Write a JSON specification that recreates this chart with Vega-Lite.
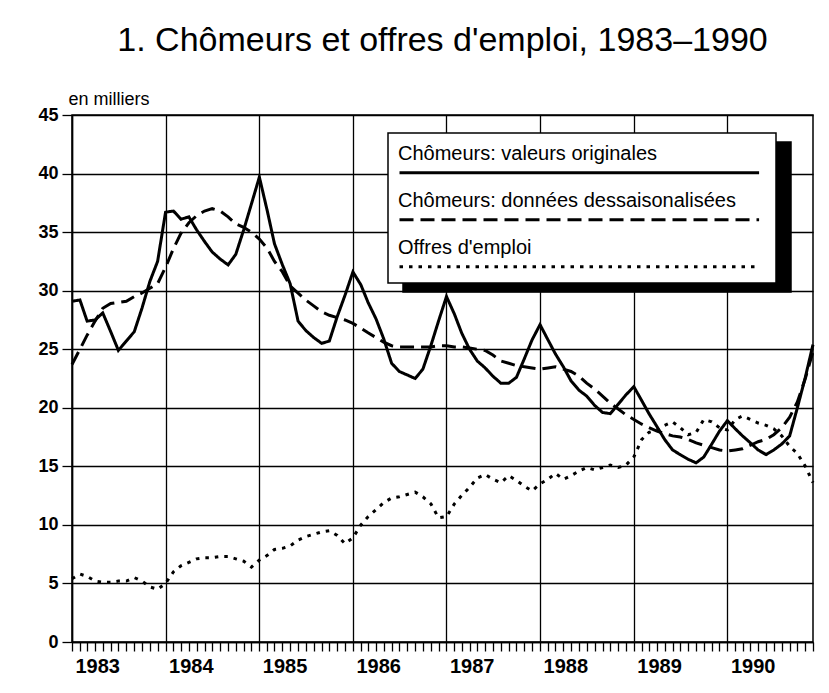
{
  "$schema": "https://vega.github.io/schema/vega-lite/v6.json",
  "width": 741,
  "height": 527,
  "autosize": {"type": "none"},
  "padding": {"left": 72, "top": 115, "right": 16, "bottom": 51},
  "background": "white",
  "title": {"text": "1. Chômeurs et offres d'emploi, 1983–1990", "font": "Liberation Sans", "fontSize": 34, "fontWeight": "normal", "color": "black", "anchor": "middle", "frame": "group", "offset": 32},
  "layer": [
  {
  "data": {"values": [
{"mois":"1983-01-01","serie":"Chômeurs: valeurs originales","valeur":29.1},{"mois":"1983-02-01","serie":"Chômeurs: valeurs originales","valeur":29.2},{"mois":"1983-03-01","serie":"Chômeurs: valeurs originales","valeur":27.4},{"mois":"1983-04-01","serie":"Chômeurs: valeurs originales","valeur":27.5},{"mois":"1983-05-01","serie":"Chômeurs: valeurs originales","valeur":28.1},{"mois":"1983-06-01","serie":"Chômeurs: valeurs originales","valeur":26.5},{"mois":"1983-07-01","serie":"Chômeurs: valeurs originales","valeur":24.9},{"mois":"1983-08-01","serie":"Chômeurs: valeurs originales","valeur":25.7},{"mois":"1983-09-01","serie":"Chômeurs: valeurs originales","valeur":26.5},{"mois":"1983-10-01","serie":"Chômeurs: valeurs originales","valeur":28.5},{"mois":"1983-11-01","serie":"Chômeurs: valeurs originales","valeur":30.8},{"mois":"1983-12-01","serie":"Chômeurs: valeurs originales","valeur":32.5},
{"mois":"1984-01-01","serie":"Chômeurs: valeurs originales","valeur":36.7},{"mois":"1984-02-01","serie":"Chômeurs: valeurs originales","valeur":36.8},{"mois":"1984-03-01","serie":"Chômeurs: valeurs originales","valeur":36.1},{"mois":"1984-04-01","serie":"Chômeurs: valeurs originales","valeur":36.3},{"mois":"1984-05-01","serie":"Chômeurs: valeurs originales","valeur":35.2},{"mois":"1984-06-01","serie":"Chômeurs: valeurs originales","valeur":34.2},{"mois":"1984-07-01","serie":"Chômeurs: valeurs originales","valeur":33.3},{"mois":"1984-08-01","serie":"Chômeurs: valeurs originales","valeur":32.7},{"mois":"1984-09-01","serie":"Chômeurs: valeurs originales","valeur":32.2},{"mois":"1984-10-01","serie":"Chômeurs: valeurs originales","valeur":33.1},{"mois":"1984-11-01","serie":"Chômeurs: valeurs originales","valeur":35.2},{"mois":"1984-12-01","serie":"Chômeurs: valeurs originales","valeur":37.4},
{"mois":"1985-01-01","serie":"Chômeurs: valeurs originales","valeur":39.7},{"mois":"1985-02-01","serie":"Chômeurs: valeurs originales","valeur":36.8},{"mois":"1985-03-01","serie":"Chômeurs: valeurs originales","valeur":34.0},{"mois":"1985-04-01","serie":"Chômeurs: valeurs originales","valeur":32.2},{"mois":"1985-05-01","serie":"Chômeurs: valeurs originales","valeur":30.6},{"mois":"1985-06-01","serie":"Chômeurs: valeurs originales","valeur":27.4},{"mois":"1985-07-01","serie":"Chômeurs: valeurs originales","valeur":26.6},{"mois":"1985-08-01","serie":"Chômeurs: valeurs originales","valeur":26.0},{"mois":"1985-09-01","serie":"Chômeurs: valeurs originales","valeur":25.5},{"mois":"1985-10-01","serie":"Chômeurs: valeurs originales","valeur":25.7},{"mois":"1985-11-01","serie":"Chômeurs: valeurs originales","valeur":27.8},{"mois":"1985-12-01","serie":"Chômeurs: valeurs originales","valeur":29.6},
{"mois":"1986-01-01","serie":"Chômeurs: valeurs originales","valeur":31.6},{"mois":"1986-02-01","serie":"Chômeurs: valeurs originales","valeur":30.5},{"mois":"1986-03-01","serie":"Chômeurs: valeurs originales","valeur":29.0},{"mois":"1986-04-01","serie":"Chômeurs: valeurs originales","valeur":27.6},{"mois":"1986-05-01","serie":"Chômeurs: valeurs originales","valeur":25.9},{"mois":"1986-06-01","serie":"Chômeurs: valeurs originales","valeur":23.8},{"mois":"1986-07-01","serie":"Chômeurs: valeurs originales","valeur":23.1},{"mois":"1986-08-01","serie":"Chômeurs: valeurs originales","valeur":22.8},{"mois":"1986-09-01","serie":"Chômeurs: valeurs originales","valeur":22.5},{"mois":"1986-10-01","serie":"Chômeurs: valeurs originales","valeur":23.3},{"mois":"1986-11-01","serie":"Chômeurs: valeurs originales","valeur":25.3},{"mois":"1986-12-01","serie":"Chômeurs: valeurs originales","valeur":27.4},
{"mois":"1987-01-01","serie":"Chômeurs: valeurs originales","valeur":29.5},{"mois":"1987-02-01","serie":"Chômeurs: valeurs originales","valeur":28.0},{"mois":"1987-03-01","serie":"Chômeurs: valeurs originales","valeur":26.4},{"mois":"1987-04-01","serie":"Chômeurs: valeurs originales","valeur":25.0},{"mois":"1987-05-01","serie":"Chômeurs: valeurs originales","valeur":24.0},{"mois":"1987-06-01","serie":"Chômeurs: valeurs originales","valeur":23.4},{"mois":"1987-07-01","serie":"Chômeurs: valeurs originales","valeur":22.7},{"mois":"1987-08-01","serie":"Chômeurs: valeurs originales","valeur":22.1},{"mois":"1987-09-01","serie":"Chômeurs: valeurs originales","valeur":22.1},{"mois":"1987-10-01","serie":"Chômeurs: valeurs originales","valeur":22.6},{"mois":"1987-11-01","serie":"Chômeurs: valeurs originales","valeur":24.2},{"mois":"1987-12-01","serie":"Chômeurs: valeurs originales","valeur":25.8},
{"mois":"1988-01-01","serie":"Chômeurs: valeurs originales","valeur":27.1},{"mois":"1988-02-01","serie":"Chômeurs: valeurs originales","valeur":25.8},{"mois":"1988-03-01","serie":"Chômeurs: valeurs originales","valeur":24.6},{"mois":"1988-04-01","serie":"Chômeurs: valeurs originales","valeur":23.5},{"mois":"1988-05-01","serie":"Chômeurs: valeurs originales","valeur":22.3},{"mois":"1988-06-01","serie":"Chômeurs: valeurs originales","valeur":21.5},{"mois":"1988-07-01","serie":"Chômeurs: valeurs originales","valeur":21.0},{"mois":"1988-08-01","serie":"Chômeurs: valeurs originales","valeur":20.2},{"mois":"1988-09-01","serie":"Chômeurs: valeurs originales","valeur":19.6},{"mois":"1988-10-01","serie":"Chômeurs: valeurs originales","valeur":19.5},{"mois":"1988-11-01","serie":"Chômeurs: valeurs originales","valeur":20.3},{"mois":"1988-12-01","serie":"Chômeurs: valeurs originales","valeur":21.1},
{"mois":"1989-01-01","serie":"Chômeurs: valeurs originales","valeur":21.8},{"mois":"1989-02-01","serie":"Chômeurs: valeurs originales","valeur":20.6},{"mois":"1989-03-01","serie":"Chômeurs: valeurs originales","valeur":19.5},{"mois":"1989-04-01","serie":"Chômeurs: valeurs originales","valeur":18.4},{"mois":"1989-05-01","serie":"Chômeurs: valeurs originales","valeur":17.3},{"mois":"1989-06-01","serie":"Chômeurs: valeurs originales","valeur":16.4},{"mois":"1989-07-01","serie":"Chômeurs: valeurs originales","valeur":16.0},{"mois":"1989-08-01","serie":"Chômeurs: valeurs originales","valeur":15.6},{"mois":"1989-09-01","serie":"Chômeurs: valeurs originales","valeur":15.3},{"mois":"1989-10-01","serie":"Chômeurs: valeurs originales","valeur":15.8},{"mois":"1989-11-01","serie":"Chômeurs: valeurs originales","valeur":16.9},{"mois":"1989-12-01","serie":"Chômeurs: valeurs originales","valeur":18.0},
{"mois":"1990-01-01","serie":"Chômeurs: valeurs originales","valeur":18.9},{"mois":"1990-02-01","serie":"Chômeurs: valeurs originales","valeur":18.2},{"mois":"1990-03-01","serie":"Chômeurs: valeurs originales","valeur":17.6},{"mois":"1990-04-01","serie":"Chômeurs: valeurs originales","valeur":17.0},{"mois":"1990-05-01","serie":"Chômeurs: valeurs originales","valeur":16.4},{"mois":"1990-06-01","serie":"Chômeurs: valeurs originales","valeur":16.0},{"mois":"1990-07-01","serie":"Chômeurs: valeurs originales","valeur":16.4},{"mois":"1990-08-01","serie":"Chômeurs: valeurs originales","valeur":16.9},{"mois":"1990-09-01","serie":"Chômeurs: valeurs originales","valeur":17.6},{"mois":"1990-10-01","serie":"Chômeurs: valeurs originales","valeur":20.0},{"mois":"1990-11-01","serie":"Chômeurs: valeurs originales","valeur":22.6},{"mois":"1990-12-01","serie":"Chômeurs: valeurs originales","valeur":25.4},
{"mois":"1983-01-01","serie":"Chômeurs: données dessaisonalisées","valeur":23.7},{"mois":"1983-02-01","serie":"Chômeurs: données dessaisonalisées","valeur":25.0},{"mois":"1983-03-01","serie":"Chômeurs: données dessaisonalisées","valeur":26.2},{"mois":"1983-04-01","serie":"Chômeurs: données dessaisonalisées","valeur":27.4},{"mois":"1983-05-01","serie":"Chômeurs: données dessaisonalisées","valeur":28.5},{"mois":"1983-06-01","serie":"Chômeurs: données dessaisonalisées","valeur":28.9},{"mois":"1983-07-01","serie":"Chômeurs: données dessaisonalisées","valeur":29.0},{"mois":"1983-08-01","serie":"Chômeurs: données dessaisonalisées","valeur":29.1},{"mois":"1983-09-01","serie":"Chômeurs: données dessaisonalisées","valeur":29.5},{"mois":"1983-10-01","serie":"Chômeurs: données dessaisonalisées","valeur":29.8},{"mois":"1983-11-01","serie":"Chômeurs: données dessaisonalisées","valeur":30.2},{"mois":"1983-12-01","serie":"Chômeurs: données dessaisonalisées","valeur":30.6},
{"mois":"1984-01-01","serie":"Chômeurs: données dessaisonalisées","valeur":32.0},{"mois":"1984-02-01","serie":"Chômeurs: données dessaisonalisées","valeur":33.6},{"mois":"1984-03-01","serie":"Chômeurs: données dessaisonalisées","valeur":34.9},{"mois":"1984-04-01","serie":"Chômeurs: données dessaisonalisées","valeur":35.8},{"mois":"1984-05-01","serie":"Chômeurs: données dessaisonalisées","valeur":36.4},{"mois":"1984-06-01","serie":"Chômeurs: données dessaisonalisées","valeur":36.8},{"mois":"1984-07-01","serie":"Chômeurs: données dessaisonalisées","valeur":37.0},{"mois":"1984-08-01","serie":"Chômeurs: données dessaisonalisées","valeur":36.8},{"mois":"1984-09-01","serie":"Chômeurs: données dessaisonalisées","valeur":36.3},{"mois":"1984-10-01","serie":"Chômeurs: données dessaisonalisées","valeur":35.7},{"mois":"1984-11-01","serie":"Chômeurs: données dessaisonalisées","valeur":35.4},{"mois":"1984-12-01","serie":"Chômeurs: données dessaisonalisées","valeur":35.0},
{"mois":"1985-01-01","serie":"Chômeurs: données dessaisonalisées","valeur":34.4},{"mois":"1985-02-01","serie":"Chômeurs: données dessaisonalisées","valeur":33.6},{"mois":"1985-03-01","serie":"Chômeurs: données dessaisonalisées","valeur":32.5},{"mois":"1985-04-01","serie":"Chômeurs: données dessaisonalisées","valeur":31.6},{"mois":"1985-05-01","serie":"Chômeurs: données dessaisonalisées","valeur":30.4},{"mois":"1985-06-01","serie":"Chômeurs: données dessaisonalisées","valeur":29.8},{"mois":"1985-07-01","serie":"Chômeurs: données dessaisonalisées","valeur":29.2},{"mois":"1985-08-01","serie":"Chômeurs: données dessaisonalisées","valeur":28.7},{"mois":"1985-09-01","serie":"Chômeurs: données dessaisonalisées","valeur":28.2},{"mois":"1985-10-01","serie":"Chômeurs: données dessaisonalisées","valeur":27.9},{"mois":"1985-11-01","serie":"Chômeurs: données dessaisonalisées","valeur":27.7},{"mois":"1985-12-01","serie":"Chômeurs: données dessaisonalisées","valeur":27.5},
{"mois":"1986-01-01","serie":"Chômeurs: données dessaisonalisées","valeur":27.2},{"mois":"1986-02-01","serie":"Chômeurs: données dessaisonalisées","valeur":26.8},{"mois":"1986-03-01","serie":"Chômeurs: données dessaisonalisées","valeur":26.4},{"mois":"1986-04-01","serie":"Chômeurs: données dessaisonalisées","valeur":26.0},{"mois":"1986-05-01","serie":"Chômeurs: données dessaisonalisées","valeur":25.6},{"mois":"1986-06-01","serie":"Chômeurs: données dessaisonalisées","valeur":25.3},{"mois":"1986-07-01","serie":"Chômeurs: données dessaisonalisées","valeur":25.2},{"mois":"1986-08-01","serie":"Chômeurs: données dessaisonalisées","valeur":25.2},{"mois":"1986-09-01","serie":"Chômeurs: données dessaisonalisées","valeur":25.2},{"mois":"1986-10-01","serie":"Chômeurs: données dessaisonalisées","valeur":25.2},{"mois":"1986-11-01","serie":"Chômeurs: données dessaisonalisées","valeur":25.2},{"mois":"1986-12-01","serie":"Chômeurs: données dessaisonalisées","valeur":25.3},
{"mois":"1987-01-01","serie":"Chômeurs: données dessaisonalisées","valeur":25.3},{"mois":"1987-02-01","serie":"Chômeurs: données dessaisonalisées","valeur":25.2},{"mois":"1987-03-01","serie":"Chômeurs: données dessaisonalisées","valeur":25.2},{"mois":"1987-04-01","serie":"Chômeurs: données dessaisonalisées","valeur":25.1},{"mois":"1987-05-01","serie":"Chômeurs: données dessaisonalisées","valeur":25.0},{"mois":"1987-06-01","serie":"Chômeurs: données dessaisonalisées","valeur":24.9},{"mois":"1987-07-01","serie":"Chômeurs: données dessaisonalisées","valeur":24.5},{"mois":"1987-08-01","serie":"Chômeurs: données dessaisonalisées","valeur":24.0},{"mois":"1987-09-01","serie":"Chômeurs: données dessaisonalisées","valeur":23.8},{"mois":"1987-10-01","serie":"Chômeurs: données dessaisonalisées","valeur":23.6},{"mois":"1987-11-01","serie":"Chômeurs: données dessaisonalisées","valeur":23.5},{"mois":"1987-12-01","serie":"Chômeurs: données dessaisonalisées","valeur":23.4},
{"mois":"1988-01-01","serie":"Chômeurs: données dessaisonalisées","valeur":23.3},{"mois":"1988-02-01","serie":"Chômeurs: données dessaisonalisées","valeur":23.4},{"mois":"1988-03-01","serie":"Chômeurs: données dessaisonalisées","valeur":23.5},{"mois":"1988-04-01","serie":"Chômeurs: données dessaisonalisées","valeur":23.3},{"mois":"1988-05-01","serie":"Chômeurs: données dessaisonalisées","valeur":23.1},{"mois":"1988-06-01","serie":"Chômeurs: données dessaisonalisées","valeur":22.7},{"mois":"1988-07-01","serie":"Chômeurs: données dessaisonalisées","valeur":22.1},{"mois":"1988-08-01","serie":"Chômeurs: données dessaisonalisées","valeur":21.6},{"mois":"1988-09-01","serie":"Chômeurs: données dessaisonalisées","valeur":21.0},{"mois":"1988-10-01","serie":"Chômeurs: données dessaisonalisées","valeur":20.4},{"mois":"1988-11-01","serie":"Chômeurs: données dessaisonalisées","valeur":19.9},{"mois":"1988-12-01","serie":"Chômeurs: données dessaisonalisées","valeur":19.4},
{"mois":"1989-01-01","serie":"Chômeurs: données dessaisonalisées","valeur":19.0},{"mois":"1989-02-01","serie":"Chômeurs: données dessaisonalisées","valeur":18.6},{"mois":"1989-03-01","serie":"Chômeurs: données dessaisonalisées","valeur":18.3},{"mois":"1989-04-01","serie":"Chômeurs: données dessaisonalisées","valeur":18.0},{"mois":"1989-05-01","serie":"Chômeurs: données dessaisonalisées","valeur":17.8},{"mois":"1989-06-01","serie":"Chômeurs: données dessaisonalisées","valeur":17.6},{"mois":"1989-07-01","serie":"Chômeurs: données dessaisonalisées","valeur":17.5},{"mois":"1989-08-01","serie":"Chômeurs: données dessaisonalisées","valeur":17.3},{"mois":"1989-09-01","serie":"Chômeurs: données dessaisonalisées","valeur":17.0},{"mois":"1989-10-01","serie":"Chômeurs: données dessaisonalisées","valeur":16.8},{"mois":"1989-11-01","serie":"Chômeurs: données dessaisonalisées","valeur":16.6},{"mois":"1989-12-01","serie":"Chômeurs: données dessaisonalisées","valeur":16.4},
{"mois":"1990-01-01","serie":"Chômeurs: données dessaisonalisées","valeur":16.3},{"mois":"1990-02-01","serie":"Chômeurs: données dessaisonalisées","valeur":16.4},{"mois":"1990-03-01","serie":"Chômeurs: données dessaisonalisées","valeur":16.5},{"mois":"1990-04-01","serie":"Chômeurs: données dessaisonalisées","valeur":16.8},{"mois":"1990-05-01","serie":"Chômeurs: données dessaisonalisées","valeur":17.1},{"mois":"1990-06-01","serie":"Chômeurs: données dessaisonalisées","valeur":17.3},{"mois":"1990-07-01","serie":"Chômeurs: données dessaisonalisées","valeur":17.7},{"mois":"1990-08-01","serie":"Chômeurs: données dessaisonalisées","valeur":18.3},{"mois":"1990-09-01","serie":"Chômeurs: données dessaisonalisées","valeur":19.2},{"mois":"1990-10-01","serie":"Chômeurs: données dessaisonalisées","valeur":20.5},{"mois":"1990-11-01","serie":"Chômeurs: données dessaisonalisées","valeur":22.5},{"mois":"1990-12-01","serie":"Chômeurs: données dessaisonalisées","valeur":24.8},
{"mois":"1983-01-01","serie":"Offres d'emploi","valeur":5.4},{"mois":"1983-02-01","serie":"Offres d'emploi","valeur":5.8},{"mois":"1983-03-01","serie":"Offres d'emploi","valeur":5.6},{"mois":"1983-04-01","serie":"Offres d'emploi","valeur":5.2},{"mois":"1983-05-01","serie":"Offres d'emploi","valeur":5.1},{"mois":"1983-06-01","serie":"Offres d'emploi","valeur":5.1},{"mois":"1983-07-01","serie":"Offres d'emploi","valeur":5.2},{"mois":"1983-08-01","serie":"Offres d'emploi","valeur":5.2},{"mois":"1983-09-01","serie":"Offres d'emploi","valeur":5.5},{"mois":"1983-10-01","serie":"Offres d'emploi","valeur":5.2},{"mois":"1983-11-01","serie":"Offres d'emploi","valeur":4.7},{"mois":"1983-12-01","serie":"Offres d'emploi","valeur":4.5},
{"mois":"1984-01-01","serie":"Offres d'emploi","valeur":5.0},{"mois":"1984-02-01","serie":"Offres d'emploi","valeur":6.0},{"mois":"1984-03-01","serie":"Offres d'emploi","valeur":6.5},{"mois":"1984-04-01","serie":"Offres d'emploi","valeur":6.8},{"mois":"1984-05-01","serie":"Offres d'emploi","valeur":7.1},{"mois":"1984-06-01","serie":"Offres d'emploi","valeur":7.2},{"mois":"1984-07-01","serie":"Offres d'emploi","valeur":7.2},{"mois":"1984-08-01","serie":"Offres d'emploi","valeur":7.3},{"mois":"1984-09-01","serie":"Offres d'emploi","valeur":7.3},{"mois":"1984-10-01","serie":"Offres d'emploi","valeur":7.1},{"mois":"1984-11-01","serie":"Offres d'emploi","valeur":6.9},{"mois":"1984-12-01","serie":"Offres d'emploi","valeur":6.4},
{"mois":"1985-01-01","serie":"Offres d'emploi","valeur":7.0},{"mois":"1985-02-01","serie":"Offres d'emploi","valeur":7.4},{"mois":"1985-03-01","serie":"Offres d'emploi","valeur":7.9},{"mois":"1985-04-01","serie":"Offres d'emploi","valeur":8.0},{"mois":"1985-05-01","serie":"Offres d'emploi","valeur":8.2},{"mois":"1985-06-01","serie":"Offres d'emploi","valeur":8.7},{"mois":"1985-07-01","serie":"Offres d'emploi","valeur":9.0},{"mois":"1985-08-01","serie":"Offres d'emploi","valeur":9.2},{"mois":"1985-09-01","serie":"Offres d'emploi","valeur":9.4},{"mois":"1985-10-01","serie":"Offres d'emploi","valeur":9.5},{"mois":"1985-11-01","serie":"Offres d'emploi","valeur":9.1},{"mois":"1985-12-01","serie":"Offres d'emploi","valeur":8.4},
{"mois":"1986-01-01","serie":"Offres d'emploi","valeur":8.9},{"mois":"1986-02-01","serie":"Offres d'emploi","valeur":10.0},{"mois":"1986-03-01","serie":"Offres d'emploi","valeur":10.7},{"mois":"1986-04-01","serie":"Offres d'emploi","valeur":11.3},{"mois":"1986-05-01","serie":"Offres d'emploi","valeur":11.9},{"mois":"1986-06-01","serie":"Offres d'emploi","valeur":12.3},{"mois":"1986-07-01","serie":"Offres d'emploi","valeur":12.4},{"mois":"1986-08-01","serie":"Offres d'emploi","valeur":12.6},{"mois":"1986-09-01","serie":"Offres d'emploi","valeur":12.8},{"mois":"1986-10-01","serie":"Offres d'emploi","valeur":12.4},{"mois":"1986-11-01","serie":"Offres d'emploi","valeur":11.8},{"mois":"1986-12-01","serie":"Offres d'emploi","valeur":10.6},
{"mois":"1987-01-01","serie":"Offres d'emploi","valeur":10.7},{"mois":"1987-02-01","serie":"Offres d'emploi","valeur":11.8},{"mois":"1987-03-01","serie":"Offres d'emploi","valeur":12.5},{"mois":"1987-04-01","serie":"Offres d'emploi","valeur":13.2},{"mois":"1987-05-01","serie":"Offres d'emploi","valeur":14.0},{"mois":"1987-06-01","serie":"Offres d'emploi","valeur":14.3},{"mois":"1987-07-01","serie":"Offres d'emploi","valeur":13.9},{"mois":"1987-08-01","serie":"Offres d'emploi","valeur":13.6},{"mois":"1987-09-01","serie":"Offres d'emploi","valeur":14.2},{"mois":"1987-10-01","serie":"Offres d'emploi","valeur":13.8},{"mois":"1987-11-01","serie":"Offres d'emploi","valeur":13.3},{"mois":"1987-12-01","serie":"Offres d'emploi","valeur":12.9},
{"mois":"1988-01-01","serie":"Offres d'emploi","valeur":13.5},{"mois":"1988-02-01","serie":"Offres d'emploi","valeur":13.9},{"mois":"1988-03-01","serie":"Offres d'emploi","valeur":14.4},{"mois":"1988-04-01","serie":"Offres d'emploi","valeur":13.9},{"mois":"1988-05-01","serie":"Offres d'emploi","valeur":14.2},{"mois":"1988-06-01","serie":"Offres d'emploi","valeur":14.6},{"mois":"1988-07-01","serie":"Offres d'emploi","valeur":14.9},{"mois":"1988-08-01","serie":"Offres d'emploi","valeur":14.7},{"mois":"1988-09-01","serie":"Offres d'emploi","valeur":14.9},{"mois":"1988-10-01","serie":"Offres d'emploi","valeur":15.1},{"mois":"1988-11-01","serie":"Offres d'emploi","valeur":14.9},{"mois":"1988-12-01","serie":"Offres d'emploi","valeur":15.1},
{"mois":"1989-01-01","serie":"Offres d'emploi","valeur":15.8},{"mois":"1989-02-01","serie":"Offres d'emploi","valeur":17.3},{"mois":"1989-03-01","serie":"Offres d'emploi","valeur":17.9},{"mois":"1989-04-01","serie":"Offres d'emploi","valeur":18.1},{"mois":"1989-05-01","serie":"Offres d'emploi","valeur":18.5},{"mois":"1989-06-01","serie":"Offres d'emploi","valeur":18.8},{"mois":"1989-07-01","serie":"Offres d'emploi","valeur":18.3},{"mois":"1989-08-01","serie":"Offres d'emploi","valeur":17.7},{"mois":"1989-09-01","serie":"Offres d'emploi","valeur":17.9},{"mois":"1989-10-01","serie":"Offres d'emploi","valeur":19.0},{"mois":"1989-11-01","serie":"Offres d'emploi","valeur":18.8},{"mois":"1989-12-01","serie":"Offres d'emploi","valeur":18.3},
{"mois":"1990-01-01","serie":"Offres d'emploi","valeur":18.1},{"mois":"1990-02-01","serie":"Offres d'emploi","valeur":19.0},{"mois":"1990-03-01","serie":"Offres d'emploi","valeur":19.3},{"mois":"1990-04-01","serie":"Offres d'emploi","valeur":19.0},{"mois":"1990-05-01","serie":"Offres d'emploi","valeur":18.7},{"mois":"1990-06-01","serie":"Offres d'emploi","valeur":18.5},{"mois":"1990-07-01","serie":"Offres d'emploi","valeur":18.2},{"mois":"1990-08-01","serie":"Offres d'emploi","valeur":17.6},{"mois":"1990-09-01","serie":"Offres d'emploi","valeur":16.7},{"mois":"1990-10-01","serie":"Offres d'emploi","valeur":16.1},{"mois":"1990-11-01","serie":"Offres d'emploi","valeur":15.0},{"mois":"1990-12-01","serie":"Offres d'emploi","valeur":13.6}
  ]},
  "mark": {"type": "line", "color": "black", "strokeWidth": 3, "strokeCap": "butt", "strokeJoin": "miter"},
  "encoding": {
    "x": {
      "field": "mois", "type": "temporal",
      "scale": {"type": "utc", "nice": false, "domain": [{"year": 1983, "month": 1, "date": 1, "utc": true}, {"year": 1990, "month": 12, "date": 1, "utc": true}]},
      "axis": {
        "title": null,
        "tickCount": {"interval": "month", "step": 1},
        "labelExpr": "utcmonth(datum.value) === 0 ? utcFormat(datum.value, '%Y') : ''",
        "labelAlign": "left", "labelOffset": 3, "labelFlush": false, "labelOverlap": false, "labelBound": false,
        "labelPadding": 5, "labelFont": "Liberation Sans", "labelFontSize": 20, "labelFontWeight": "bold", "labelColor": "black",
        "tickSize": 9, "tickColor": "black", "tickWidth": 1.3,
        "domainColor": "black", "domainWidth": 1.5,
        "grid": true, "gridColor": "black", "gridWidth": 1.3,
        "gridOpacity": {"condition": {"test": "utcmonth(datum.value) === 0", "value": 1}, "value": 0}
      }
    },
    "y": {
      "field": "valeur", "type": "quantitative",
      "scale": {"domain": [0, 45], "nice": false, "zero": true},
      "axis": {
        "title": "en milliers", "titleAngle": 0, "titleAlign": "left", "titleBaseline": "alphabetic", "titleX": -4, "titleY": -11,
        "titleFont": "Liberation Sans", "titleFontSize": 18, "titleFontWeight": "normal", "titleColor": "black",
        "values": [0, 5, 10, 15, 20, 25, 30, 35, 40, 45],
        "labelFont": "Liberation Sans", "labelFontSize": 18, "labelFontWeight": "bold", "labelColor": "black", "labelPadding": 4,
        "tickSize": 10, "tickColor": "black", "tickWidth": 1.3,
        "domainColor": "black", "domainWidth": 1.5,
        "grid": true, "gridColor": "black", "gridWidth": 1.3, "gridOpacity": 1
      }
    },
    "strokeDash": {
      "field": "serie", "type": "nominal",
      "scale": {"domain": ["Chômeurs: valeurs originales", "Chômeurs: données dessaisonalisées", "Offres d'emploi"], "range": [[1, 0], [14, 7], [3.5, 6]]},
      "legend": {
        "orient": "none", "legendX": 316, "legendY": 18, "title": null, "zindex": 2,
        "fillColor": "white", "strokeColor": "black", "padding": 10,
        "symbolType": "M-1,0.826H22.2", "symbolSize": 961, "symbolStrokeWidth": 3, "symbolStrokeColor": "black", "symbolFillColor": "transparent",
        "rowPadding": 11,
        "labelFont": "Liberation Sans", "labelFontSize": 20, "labelColor": "black", "labelBaseline": "alphabetic",
        "labelOffset": -34, "labelLimit": 400
      }
    }
  }
  },
  {
    "data": {"values": [{"legende": "Chômeurs: valeurs originales"}, {"legende": "Chômeurs: données dessaisonalisées"}, {"legende": "Offres d'emploi"}]},
    "mark": {"type": "point", "opacity": 0},
    "encoding": {
      "shape": {
        "field": "legende", "type": "nominal",
        "scale": {"range": ["M-1,0.826H22.2", "M-1,0.826H22.2", "M-1,0.826H22.2"]},
        "legend": {
          "orient": "none", "legendX": 331, "legendY": 27, "title": null, "zindex": 1,
          "fillColor": "black", "strokeColor": "black", "padding": 10,
          "symbolType": "M-1,0.826H22.2", "symbolSize": 961, "symbolStrokeWidth": 3, "symbolStrokeColor": "black", "symbolFillColor": "black",
          "rowPadding": 11,
          "labelExpr": "' '",
          "labelFont": "Liberation Sans", "labelFontSize": 20, "labelColor": "black", "labelBaseline": "alphabetic",
          "labelOffset": -34, "labelLimit": 400
        }
      }
    }
  }
  ],
  "config": {
    "view": {"fill": "#c4c4c4", "stroke": "black", "strokeWidth": 1.5},
    "legend": {"strokeWidth": 1.5}
  }
}
